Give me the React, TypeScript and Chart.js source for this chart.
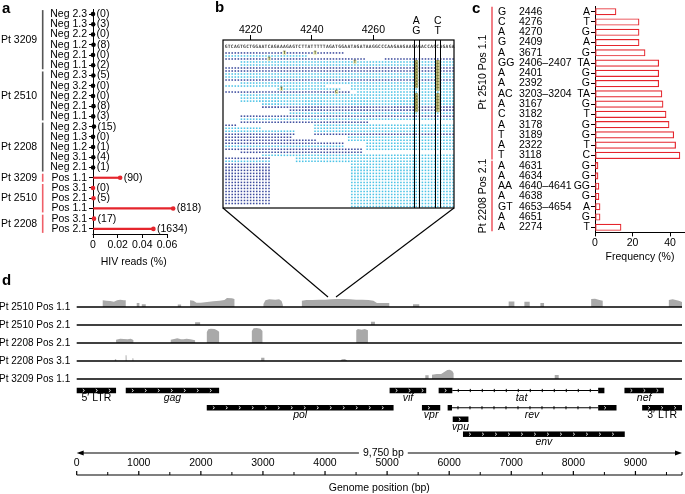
import React, { useEffect, useRef } from 'react';
import { Chart, registerables } from 'chart.js';

Chart.register(...registerables);

const FONT = "'Liberation Sans', Arial, Helvetica, sans-serif";
const BLACK = '#000000';
const RED = '#e5252c';
const BRACKET_RED = '#ef5f68';
const BRACKET_GREY = '#555555';

/* ---------------- panel a ---------------- */
const aRowLabels = ['Neg 2.3', 'Neg 1.3', 'Neg 2.2', 'Neg 1.2', 'Neg 2.1', 'Neg 1.1', 'Neg 2.3', 'Neg 3.2', 'Neg 2.2', 'Neg 2.1', 'Neg 1.1', 'Neg 2.3', 'Neg 1.3', 'Neg 1.2', 'Neg 3.1', 'Neg 2.1', 'Pos 1.1', 'Pos 3.1', 'Pos 2.1', 'Pos 1.1', 'Pos 3.1', 'Pos 2.1'];
const aReadCounts = [0, 3, 0, 8, 0, 2, 5, 0, 0, 8, 3, 15, 0, 1, 4, 1, 90, 0, 5, 818, 17, 1634];
const aHivReadsPct = [0, 0.00015, 0, 0.0004, 0, 0.0001, 0.00025, 0, 0, 0.0004, 0.00015, 0.00075, 0, 0.00005, 0.0002, 0.00005, 0.022, 0, 0.0004, 0.065, 0.0008, 0.049];
const aGroupNames = ['Pt 3209', 'Pt 2510', 'Pt 2208', 'Pt 3209', 'Pt 2510', 'Pt 2208'];
const aGroupFirst = [0, 6, 11, 16, 17, 20];
const aGroupLast = [5, 10, 15, 16, 19, 21];
const aGroupPositive = [false, false, false, true, true, true];
const aXTicks = [0, 0.02, 0.04, 0.06];
const aXTickLabels = ['0', '0.02', '0.04', '0.06'];

/* ---------------- panel b ---------------- */
const bFirstBase = 4212;
const bRefSequence = 'GTCAGTGCTGGAATCAGAAAGAGTCTTATTTTTAGATGGAATAGATAAGGCCCAAGAAGAAGAGACCACCAGAGA';
const bXTicks = [4220, 4240, 4260];
// [row, first base, last base, strand (0 = dark, 1 = light)]
const bReads = [
  [0, 4212, 4250, 0], [1, 4212, 4238, 1], [2, 4212, 4257, 0], [2, 4264, 4286, 0],
  [3, 4217, 4286, 1], [4, 4217, 4286, 1], [5, 4212, 4286, 0], [6, 4212, 4286, 0],
  [7, 4212, 4286, 1], [8, 4212, 4286, 1], [9, 4212, 4286, 0], [10, 4217, 4286, 1],
  [11, 4212, 4244, 1], [11, 4253, 4286, 1], [12, 4229, 4249, 1], [12, 4253, 4286, 1],
  [13, 4212, 4252, 0], [13, 4255, 4286, 1], [14, 4217, 4286, 1], [15, 4217, 4286, 1],
  [16, 4217, 4286, 1], [17, 4224, 4286, 1], [18, 4224, 4286, 0], [19, 4233, 4286, 0],
  [20, 4233, 4286, 1], [21, 4217, 4286, 0], [22, 4217, 4286, 1], [23, 4217, 4258, 0],
  [24, 4212, 4215, 0], [24, 4241, 4286, 1], [25, 4212, 4223, 1], [25, 4241, 4286, 1],
  [26, 4212, 4234, 1], [26, 4241, 4286, 1], [27, 4212, 4234, 0], [27, 4241, 4286, 0],
  [28, 4212, 4233, 0], [28, 4252, 4286, 1], [29, 4212, 4241, 0], [29, 4252, 4286, 1],
  [30, 4212, 4250, 0], [30, 4258, 4286, 1], [31, 4212, 4250, 1], [31, 4258, 4286, 1],
  [32, 4212, 4256, 0], [32, 4258, 4286, 1], [33, 4217, 4256, 0], [34, 4224, 4286, 1],
  [35, 4212, 4226, 0], [35, 4235, 4286, 1], [36, 4212, 4226, 1], [36, 4235, 4286, 1],
  [37, 4212, 4226, 0], [37, 4253, 4286, 1], [38, 4212, 4226, 0], [38, 4253, 4286, 1],
  [39, 4212, 4226, 0], [39, 4253, 4286, 1], [40, 4212, 4226, 0], [40, 4253, 4286, 1],
  [41, 4212, 4226, 0], [41, 4253, 4286, 1], [42, 4212, 4226, 0], [42, 4253, 4286, 1],
  [43, 4212, 4226, 0], [43, 4253, 4286, 1], [44, 4212, 4226, 0], [44, 4253, 4286, 1],
  [45, 4212, 4226, 0], [45, 4253, 4286, 1], [46, 4212, 4226, 0], [46, 4253, 4286, 1],
  [47, 4212, 4226, 0], [47, 4253, 4286, 1], [48, 4212, 4226, 0], [48, 4253, 4286, 1],
  [49, 4212, 4226, 0], [49, 4253, 4286, 1], [50, 4212, 4226, 0], [50, 4253, 4286, 1],
  [51, 4253, 4286, 1],
];
const bMismatchRows = [0, 0, 2, 3, 12, 13];
const bMismatchBases = [4231, 4241, 4226, 4254, 4230, 4248];
const bMismatchLetters = ['T', 'T', 'T', 'T', 'T', 'C'];
const bVariantBases = [4274, 4281];
const bVariantRef = ['A', 'C'];
const bVariantAlt = ['G', 'T'];
const bVariantRows = [
  [3, 4, 5, 6, 7, 8, 9, 10, 11, 14, 15, 16, 17, 18, 19],
  [3, 4, 5, 6, 7, 8, 9, 10, 11, 12, 14, 15, 16, 17, 18, 19],
];

/* ---------------- panel c ---------------- */
const cRefBases = ['G', 'C', 'A', 'G', 'A', 'GG', 'A', 'A', 'AC', 'A', 'C', 'A', 'T', 'A', 'T', 'A', 'A', 'AA', 'A', 'GT', 'A', 'A'];
const cPositions = ['2446', '4276', '4270', '2409', '3671', '2406–2407', '2401', '2392', '3203–3204', '3167', '3182', '3178', '3189', '2322', '3118', '4631', '4634', '4640–4641', '4638', '4653–4654', '4651', '2274'];
const cAltBases = ['A', 'T', 'G', 'A', 'G', 'TA', 'G', 'G', 'TA', 'G', 'T', 'G', 'G', 'T', 'C', 'G', 'G', 'GG', 'G', 'A', 'G', 'T'];
const cFrequency = [11.2, 23.5, 23.5, 23.5, 26.7, 34, 34, 34, 35.7, 36.3, 37.9, 39.5, 42, 43, 45.3, 1.6, 1.6, 2.1, 2.1, 2.7, 2.7, 13.9];
const cGroupNames = ['Pt 2510 Pos 1.1', 'Pt 2208 Pos 2.1'];
const cGroupFirst = [0, 15];
const cGroupLast = [14, 21];
const cXTicks = [0, 20, 40];

/* ---------------- panel d ---------------- */
const dTrackNames = ['Pt 2510 Pos 1.1', 'Pt 2510 Pos 2.1', 'Pt 2208 Pos 2.1', 'Pt 2208 Pos 3.1', 'Pt 3209 Pos 1.1'];
const dCov2510Pos11 = [
  [0, 0], [419, 0], [419, 6.7], [480, 6.3], [540, 6], [600, 5.3], [650, 6.7], [700, 7.3], [760, 6.7], [790, 6.7], [790, 0],
  [967, 0], [967, 4], [1010, 4], [1010, 0], [1048, 0], [1048, 2.7], [1112, 2.7], [1112, 0],
  [1628, 0], [1628, 2.5], [1682, 2.5], [1682, 0],
  [1826, 0], [1826, 6.7], [1880, 6.3], [1930, 4.3], [2000, 4.3], [2100, 5], [2200, 5.7], [2300, 6.3], [2380, 7], [2420, 9], [2500, 8.7], [2541, 8], [2541, 0],
  [3008, 0], [3008, 3], [3040, 6.7], [3100, 7.7], [3200, 7.3], [3260, 7.7], [3300, 6], [3321, 2], [3321, 0],
  [3627, 0], [3627, 6.3], [3700, 7], [3800, 7], [3900, 7.3], [4000, 7.3], [4100, 7.7], [4200, 8], [4300, 8], [4400, 7.7], [4500, 7.3], [4600, 7.3], [4700, 7], [4780, 6.3], [4836, 4], [4879, 4], [5035, 4], [5035, 0],
  [5417, 0], [5417, 2.7], [5518, 2.7], [5518, 0],
  [6958, 0], [6958, 5.5], [7050, 5.5], [7050, 0], [7211, 0], [7211, 5.3], [7297, 5.3], [7297, 0],
  [7469, 0], [7469, 4], [7528, 4], [7528, 0],
  [8287, 0], [8287, 8], [8350, 8.3], [8420, 7], [8473, 6.3], [8473, 0],
  [9538, 0], [9538, 7], [9600, 7.7], [9700, 6.3], [9750, 5],
];
const dCov2510Pos21 = [[0, 0], [1907, 0], [1907, 2.7], [1988, 2.7], [1988, 0], [4740, 0], [4740, 3.3], [4804, 3.3], [4804, 0], [9750, 0]];
const dCov2208Pos21 = [
  [0, 0], [634, 0], [634, 3.3], [700, 4.3], [760, 4], [820, 3.7], [870, 4.3], [913, 3], [913, 0],
  [1515, 0], [1515, 3.3], [1570, 4], [1620, 4.7], [1680, 3.7], [1720, 3.7], [1770, 4.3], [1830, 3.7], [1870, 3.3], [1907, 2.7], [1907, 0],
  [2096, 0], [2096, 11], [2120, 13.7], [2160, 14.3], [2220, 14], [2260, 12.7], [2294, 11.3], [2294, 0],
  [2821, 0], [2821, 12], [2850, 14.7], [2900, 15], [2960, 14.3], [2992, 12], [2992, 0],
  [4503, 0], [4503, 12.7], [4530, 14], [4590, 13.3], [4640, 14], [4691, 12.7], [4691, 0], [9750, 0],
];
const dCov2208Pos31 = [
  [0, 0], [610, 0], [615, 1.7], [635, 1.7], [640, 0], [785, 0], [788, 5.7], [802, 5.7], [805, 0],
  [895, 0], [898, 2.7], [912, 2.7], [915, 0], [2971, 0], [2971, 3.3], [3024, 3.3], [3024, 0],
  [4245, 0], [4270, 1.7], [4320, 2], [4353, 0.7], [4353, 0], [9750, 0],
];
const dCov3209Pos11 = [
  [0, 0], [5615, 0], [5615, 3.7], [5669, 3.7], [5669, 0], [5723, 0], [5723, 4.3], [5800, 5], [5870, 5], [5920, 7], [5970, 9], [6010, 9.3], [6050, 8], [6071, 5.7], [6071, 0],
  [7700, 0], [7700, 4], [7764, 4], [7764, 0], [9750, 0],
];
const dCoverage = [dCov2510Pos11, dCov2510Pos21, dCov2208Pos21, dCov2208Pos31, dCov3209Pos11];
const geneNames = ['5′ LTR', 'gag', 'pol', 'vif', 'vpr', 'vpu', 'tat', 'rev', 'env', 'nef', '3′ LTR'];
const geneItalic = [false, true, true, true, true, true, true, true, true, true, false];
const geneLanes = [1, 1, 2.5, 1, 2.5, 3.5, 1, 2.5, 4.8, 1, 2.5];
const geneExons = [
  [[0, 634]], [[790, 2294]], [[2095, 5104]], [[5040, 5630]], [[5561, 5856]], [[6057, 6310]],
  [[5830, 6050], [8400, 8500]], [[5975, 6045], [8400, 8695]], [[6222, 8828]], [[8823, 9457]], [[9108, 9750]],
];
const genomeLength = 9750;
const genomeLengthLabel = '9,750 bp';
const dMajorTicks = [0, 1000, 2000, 3000, 4000, 5000, 6000, 7000, 8000, 9000];
const dMinorTicks = [500, 1500, 2500, 3500, 4500, 5500, 6500, 7500, 8500, 9500, 9750];

Chart.defaults.font.family = FONT;
Chart.defaults.font.size = 10.5;
Chart.defaults.color = BLACK;

function line(ctx: any, x0: number, y0: number, x1: number, y1: number) {
  ctx.beginPath();
  ctx.moveTo(x0, y0);
  ctx.lineTo(x1, y1);
  ctx.stroke();
}

function panelLetter(ctx: any, letter: string, x: number, y: number) {
  ctx.save();
  ctx.font = `bold 15px ${FONT}`;
  ctx.fillStyle = BLACK;
  ctx.textAlign = 'left';
  ctx.textBaseline = 'alphabetic';
  ctx.fillText(letter, x, y);
  ctx.restore();
}

function makeA(canvas: HTMLCanvasElement) {
  const colors = aRowLabels.map((l) => (l.startsWith('Pos') ? RED : BLACK));
  const decor = {
    id: 'aDecor',
    beforeDatasetsDraw(chart: any) {
      const { ctx, chartArea, scales } = chart;
      const x = scales.x;
      ctx.save();
      ctx.strokeStyle = BLACK;
      ctx.lineWidth = 1;
      const yb = Math.round(chartArea.bottom) + 0.5;
      line(ctx, x.getPixelForValue(0) - 0.5, yb, x.getPixelForValue(aXTicks[aXTicks.length - 1]) + 0.5, yb);
      ctx.restore();
    },
    afterDraw(chart: any) {
      const { ctx, chartArea, scales } = chart;
      const x = scales.x;
      const y = scales.y;
      ctx.save();
      ctx.font = `10.5px ${FONT}`;
      ctx.textBaseline = 'middle';
      ctx.fillStyle = BLACK;
      ctx.textAlign = 'left';
      aHivReadsPct.forEach((v, i) => {
        ctx.fillText(`(${aReadCounts[i]})`, x.getPixelForValue(v) + 3.6, y.getPixelForValue(i));
      });
      const bx = chartArea.left - 50.3;
      aGroupNames.forEach((n, g) => {
        const y0 = y.getPixelForValue(aGroupFirst[g]) - 4;
        const y1 = y.getPixelForValue(aGroupLast[g]) + 4;
        ctx.strokeStyle = aGroupPositive[g] ? BRACKET_RED : BRACKET_GREY;
        ctx.lineWidth = 1.6;
        line(ctx, bx, y0, bx, y1);
        ctx.textAlign = 'right';
        ctx.fillText(n, bx - 5.5, (y0 + y1) / 2);
      });
      ctx.restore();
      panelLetter(ctx, 'a', 2, 13);
    },
  };
  return new Chart(canvas, {
    type: 'bar',
    data: {
      labels: aRowLabels,
      datasets: [
        { type: 'line', indexAxis: 'y', data: aHivReadsPct, showLine: false, pointRadius: 2.3, pointHoverRadius: 2.3, pointBackgroundColor: colors, pointBorderWidth: 0, clip: false } as any,
        { type: 'bar', indexAxis: 'y', data: aHivReadsPct, backgroundColor: colors, barThickness: 1.5, borderWidth: 0, clip: false } as any,
      ],
    },
    options: {
      indexAxis: 'y',
      responsive: false,
      animation: false,
      events: [],
      layout: { padding: { left: 43, right: 40.6, top: 9, bottom: 0 } },
      plugins: { legend: { display: false }, tooltip: { enabled: false } },
      scales: {
        x: {
          type: 'linear', min: 0, max: 0.066,
          afterBuildTicks: (s: any) => { s.ticks = aXTicks.map((v) => ({ value: v })); },
          ticks: { callback: (_v: any, i: number) => aXTickLabels[i], padding: 1, maxRotation: 0, color: BLACK },
          grid: { drawOnChartArea: false, tickLength: 4, color: BLACK },
          border: { display: false },
          title: { display: true, text: 'HIV reads (%)', color: BLACK, padding: { top: 0, bottom: 6.7 } },
          afterFit: (s: any) => { s.height = 41; s.paddingLeft = 0; s.paddingRight = 0; },
        },
        y: {
          type: 'category',
          grid: { drawOnChartArea: false, tickLength: 4, color: BLACK, offset: false },
          border: { color: BLACK },
          ticks: { padding: 2, autoSkip: false, color: BLACK },
          afterFit: (s: any) => { s.width = 50; s.paddingTop = 0; s.paddingBottom = 0; },
        },
      },
    } as any,
    plugins: [decor],
  });
}

function makeB(canvas: HTMLCanvasElement) {
  const dark: any[] = [];
  const light: any[] = [];
  bReads.forEach(([row, s, e, strand]) => {
    for (let b = s; b <= e; b++) (strand ? light : dark).push({ x: b, y: row });
  });
  const hi: any[] = [];
  bVariantBases.forEach((b, k) => bVariantRows[k].forEach((r) => hi.push({ x: b, y: r })));
  const headerRow = -2.1;
  const decor = {
    id: 'bDecor',
    afterDatasetsDraw(chart: any) {
      const { ctx, chartArea: ca, scales } = chart;
      const x = scales.x;
      const y = scales.y;
      ctx.save();
      ctx.textAlign = 'center';
      ctx.textBaseline = 'middle';
      ctx.font = "bold 4.6px 'DejaVu Sans Mono', monospace";
      ctx.fillStyle = '#3a3a3a';
      for (let i = 0; i < bRefSequence.length; i++) {
        ctx.fillText(bRefSequence[i], x.getPixelForValue(bFirstBase + i), y.getPixelForValue(headerRow));
      }
      bMismatchRows.forEach((r, i) => {
        const px = x.getPixelForValue(bMismatchBases[i]);
        const py = y.getPixelForValue(r);
        ctx.fillStyle = '#e9ecb4';
        ctx.fillRect(px - 1.6, py - 1.8, 3.2, 3.6);
        ctx.fillStyle = '#4a4a20';
        ctx.fillText(bMismatchLetters[i], px, py);
      });
      ctx.font = "bold 3.4px 'DejaVu Sans Mono', monospace";
      ctx.fillStyle = '#5a5a20';
      bVariantBases.forEach((b, k) => bVariantRows[k].forEach((r) => {
        ctx.fillText(bVariantAlt[k], x.getPixelForValue(b), y.getPixelForValue(r));
      }));
      ctx.strokeStyle = BLACK;
      ctx.lineWidth = 1;
      bVariantBases.forEach((b) => {
        [b - 0.8, b + 0.8].forEach((v) => {
          const px = Math.round(x.getPixelForValue(v)) + 0.5;
          line(ctx, px, ca.top, px, ca.bottom);
        });
      });
      ctx.lineWidth = 1.2;
      ctx.strokeRect(ca.left, ca.top, ca.right - ca.left, ca.bottom - ca.top);
      ctx.font = `10.5px ${FONT}`;
      ctx.fillStyle = BLACK;
      bVariantBases.forEach((b, k) => {
        const px = x.getPixelForValue(b);
        ctx.fillText(bVariantRef[k], px, 21);
        ctx.fillText(bVariantAlt[k], px, 31);
      });
      ctx.lineWidth = 1.1;
      line(ctx, ca.left, ca.bottom, ca.left + 105, 297);
      line(ctx, ca.right, ca.bottom, ca.right - 118, 297);
      ctx.restore();
      panelLetter(ctx, 'b', 3, 12);
    },
  };
  return new Chart(canvas, {
    type: 'scatter',
    data: {
      datasets: [
        { data: hi, pointStyle: 'rect', pointRadius: 2.2, pointHoverRadius: 2.2, backgroundColor: '#d8d590', borderColor: '#77773a', borderWidth: 0.5 },
        { data: dark, pointStyle: 'rect', pointRadius: 1.1, pointHoverRadius: 1.1, backgroundColor: '#3d4c9e', borderWidth: 0 },
        { data: light, pointStyle: 'rect', pointRadius: 1.1, pointHoverRadius: 1.1, backgroundColor: '#4cc3e6', borderWidth: 0 },
      ],
    },
    options: {
      responsive: false,
      animation: false,
      events: [],
      layout: { padding: { left: 11, right: 14, top: 0, bottom: 92 } },
      plugins: { legend: { display: false }, tooltip: { enabled: false } },
      scales: {
        x: {
          type: 'linear', position: 'top', min: 4211, max: 4286.3,
          afterBuildTicks: (s: any) => { s.ticks = bXTicks.map((v) => ({ value: v })); },
          ticks: { padding: -1, maxRotation: 0, color: BLACK, callback: (v: any) => String(v) },
          grid: { drawOnChartArea: false, tickLength: 5, color: BLACK },
          border: { display: false },
          afterFit: (s: any) => { s.height = 40; s.paddingLeft = 0; s.paddingRight = 0; },
        },
        y: { type: 'linear', reverse: true, min: -4.3, max: 51.5, display: false },
      },
    } as any,
    plugins: [decor],
  });
}

function makeC(canvas: HTMLCanvasElement) {
  const labelShift = [-11, 0];
  const decor = {
    id: 'cDecor',
    afterDraw(chart: any) {
      const { ctx, chartArea, scales } = chart;
      const y = scales.y;
      const left = chartArea.left;
      ctx.save();
      ctx.fillStyle = BLACK;
      ctx.font = `10.5px ${FONT}`;
      ctx.textBaseline = 'middle';
      ctx.textAlign = 'left';
      cRefBases.forEach((b, i) => {
        const py = y.getPixelForValue(i);
        ctx.fillText(b, left - 97, py);
        ctx.fillText(cPositions[i], left - 76, py);
      });
      cGroupNames.forEach((n, g) => {
        const y0 = y.getPixelForValue(cGroupFirst[g]) - 5;
        const y1 = y.getPixelForValue(cGroupLast[g]) + 4;
        const bx = left - 103;
        ctx.strokeStyle = BRACKET_RED;
        ctx.lineWidth = 1.6;
        line(ctx, bx, y0, bx, y1);
        ctx.save();
        ctx.translate(left - 112, (y0 + y1) / 2 + labelShift[g]);
        ctx.rotate(-Math.PI / 2);
        ctx.textAlign = 'center';
        ctx.fillText(n, 0, 0);
        ctx.restore();
      });
      ctx.restore();
      panelLetter(ctx, 'c', 2, 13);
    },
  };
  return new Chart(canvas, {
    type: 'bar',
    data: {
      labels: cAltBases,
      datasets: [
        { data: cFrequency, backgroundColor: '#ffffff', borderColor: RED, borderWidth: 1.2, borderSkipped: false, barThickness: 6.5 } as any,
      ],
    },
    options: {
      indexAxis: 'y',
      responsive: false,
      animation: false,
      events: [],
      layout: { padding: { left: 0, right: 0, top: 6.6, bottom: 0 } },
      plugins: { legend: { display: false }, tooltip: { enabled: false } },
      scales: {
        x: {
          type: 'linear', min: 0, max: 48,
          afterBuildTicks: (s: any) => { s.ticks = cXTicks.map((v) => ({ value: v })); },
          ticks: { padding: 0, maxRotation: 0, color: BLACK, callback: (v: any) => String(v) },
          grid: { drawOnChartArea: false, tickLength: 4, color: BLACK },
          border: { color: BLACK },
          title: { display: true, text: 'Frequency (%)', color: BLACK, padding: { top: 0, bottom: 12 } },
          afterFit: (s: any) => { s.height = 42.6; s.paddingLeft = 0; s.paddingRight = 0; },
        },
        y: {
          type: 'category',
          grid: { drawOnChartArea: false, tickLength: 4, color: BLACK, offset: false },
          border: { color: BLACK },
          ticks: { padding: 1, autoSkip: false, color: BLACK },
          afterFit: (s: any) => { s.width = 125; s.paddingTop = 0; s.paddingBottom = 0; },
        },
      },
    } as any,
    plugins: [decor],
  });
}

function makeD(canvas: HTMLCanvasElement) {
  const scales: any = {
    x: { type: 'linear', min: 0, max: genomeLength, display: false },
  };
  dTrackNames.forEach((name, i) => {
    scales['t' + i] = {
      type: 'linear', position: 'left', stack: 'tracks', stackWeight: 18, weight: 10 - i, min: 0, max: 18,
      afterBuildTicks: (s: any) => { s.ticks = [{ value: 0 }]; },
      ticks: { callback: () => name, color: BLACK, font: { size: 10 }, padding: 6.5 },
      grid: { display: false, drawTicks: false },
      border: { display: false },
      afterFit: (s: any) => { s.width = 76.7; s.paddingTop = 0; s.paddingBottom = 0; },
    };
  });
  scales.g = {
    type: 'linear', position: 'left', stack: 'tracks', stackWeight: 115, weight: 0, min: 0, max: 10, reverse: true,
    ticks: { display: false }, grid: { display: false }, border: { display: false },
    afterFit: (s: any) => { s.width = 76.7; s.paddingTop = 0; s.paddingBottom = 0; },
  };
  const decor = {
    id: 'dDecor',
    afterDatasetsDraw(chart: any) {
      const { ctx, chartArea: ca } = chart;
      ctx.save();
      ctx.strokeStyle = BLACK;
      ctx.lineWidth = 1.3;
      dTrackNames.forEach((_n, i) => {
        const py = chart.scales['t' + i].getPixelForValue(0);
        line(ctx, ca.left, py, ca.right, py);
      });
      ctx.restore();
    },
    afterDraw(chart: any) {
      const { ctx, chartArea: ca } = chart;
      const x = chart.scales.x;
      const g = chart.scales.g;
      const H = chart.height;
      const boxH = 5.5;
      ctx.save();
      geneNames.forEach((name, i) => {
        const yc = g.getPixelForValue(geneLanes[i]);
        const exons = geneExons[i];
        ctx.strokeStyle = BLACK;
        ctx.lineWidth = 1;
        for (let k = 0; k < exons.length - 1; k++) {
          const a = x.getPixelForValue(exons[k][1]);
          const b = x.getPixelForValue(exons[k + 1][0]);
          line(ctx, a, yc, b, yc);
          for (let tx = a + 6; tx < b - 3; tx += 12) line(ctx, tx, yc - 1.6, tx, yc + 1.6);
        }
        exons.forEach(([s, e]) => {
          const x0 = x.getPixelForValue(s);
          const x1 = x.getPixelForValue(e);
          ctx.fillStyle = BLACK;
          ctx.fillRect(x0, yc - boxH / 2, x1 - x0, boxH);
          ctx.strokeStyle = '#ffffff';
          ctx.lineWidth = 0.9;
          for (let cx = x0 + 7; cx < x1 - 3; cx += 13) {
            ctx.beginPath();
            ctx.moveTo(cx - 0.9, yc - 1.4);
            ctx.lineTo(cx + 0.7, yc);
            ctx.lineTo(cx - 0.9, yc + 1.4);
            ctx.stroke();
          }
        });
        const sx0 = x.getPixelForValue(exons[0][0]);
        const sx1 = x.getPixelForValue(exons[exons.length - 1][1]);
        ctx.fillStyle = BLACK;
        ctx.font = `${geneItalic[i] ? 'italic ' : ''}10.5px ${FONT}`;
        ctx.textAlign = 'center';
        ctx.textBaseline = 'middle';
        ctx.fillText(name, (sx0 + sx1) / 2, yc + 7.5);
      });
      // length arrow
      const xa = x.getPixelForValue(0);
      const xb = x.getPixelForValue(genomeLength);
      const yArrow = H - 41;
      ctx.strokeStyle = BLACK;
      ctx.fillStyle = BLACK;
      ctx.lineWidth = 1.2;
      line(ctx, xa + 4, yArrow, xb - 4, yArrow);
      ctx.beginPath();
      ctx.moveTo(xa, yArrow); ctx.lineTo(xa + 7, yArrow - 2.6); ctx.lineTo(xa + 7, yArrow + 2.6); ctx.closePath(); ctx.fill();
      ctx.beginPath();
      ctx.moveTo(xb, yArrow); ctx.lineTo(xb - 7, yArrow - 2.6); ctx.lineTo(xb - 7, yArrow + 2.6); ctx.closePath(); ctx.fill();
      ctx.font = `10.5px ${FONT}`;
      const xm = x.getPixelForValue(genomeLength / 2) + 4;
      const tw = ctx.measureText(genomeLengthLabel).width;
      ctx.fillStyle = '#ffffff';
      ctx.fillRect(xm - tw / 2 - 4, yArrow - 4, tw + 8, 8);
      ctx.fillStyle = BLACK;
      ctx.textAlign = 'center';
      ctx.textBaseline = 'middle';
      ctx.fillText(genomeLengthLabel, xm, yArrow);
      // ruler
      const yAxis = H - 19;
      dMajorTicks.forEach((v) => {
        const px = x.getPixelForValue(v);
        ctx.fillText(String(v), px, H - 31);
        line(ctx, px, yAxis, px, yAxis - 4);
      });
      ctx.lineWidth = 1;
      dMinorTicks.forEach((v) => {
        const px = x.getPixelForValue(v);
        line(ctx, px, yAxis, px, yAxis - 3);
      });
      ctx.lineWidth = 1.2;
      line(ctx, xa, yAxis, xb, yAxis);
      ctx.fillText('Genome position (bp)', (ca.left + ca.right) / 2, H - 6);
      ctx.restore();
      panelLetter(ctx, 'd', 2, 15);
    },
  };
  return new Chart(canvas, {
    type: 'line',
    data: {
      datasets: dCoverage.map((cov, i) => ({
        data: cov.map(([px, py]) => ({ x: px, y: py })),
        yAxisID: 't' + i,
        xAxisID: 'x',
        fill: 'origin',
        backgroundColor: '#a9a9a9',
        borderColor: 'rgba(0,0,0,0)',
        borderWidth: 0,
        pointRadius: 0,
        pointHoverRadius: 0,
        tension: 0,
      })) as any,
    },
    options: {
      responsive: false,
      animation: false,
      events: [],
      layout: { padding: { left: 0, right: 3, top: 19, bottom: 0 } },
      plugins: { legend: { display: false }, tooltip: { enabled: false } },
      scales,
    } as any,
    plugins: [decor],
  });
}

export default function App() {
  const aRef = useRef<HTMLCanvasElement>(null);
  const bRef = useRef<HTMLCanvasElement>(null);
  const cRef = useRef<HTMLCanvasElement>(null);
  const dRef = useRef<HTMLCanvasElement>(null);
  useEffect(() => {
    const charts: Chart[] = [];
    if (aRef.current) charts.push(makeA(aRef.current));
    if (bRef.current) charts.push(makeB(bRef.current));
    if (cRef.current) charts.push(makeC(cRef.current));
    if (dRef.current) charts.push(makeD(dRef.current));
    return () => charts.forEach((c) => c.destroy());
  }, []);
  return (
    <div style={{ position: 'fixed', left: 0, top: 0, width: 685, height: 494, background: '#ffffff', overflow: 'hidden' }}>
      <canvas ref={aRef} width={215} height={275} style={{ position: 'absolute', left: 0, top: 0 }} />
      <canvas ref={bRef} width={256} height={300} style={{ position: 'absolute', left: 212, top: 0 }} />
      <canvas ref={cRef} width={215} height={275} style={{ position: 'absolute', left: 470, top: 0 }} />
      <canvas ref={dRef} width={685} height={224} style={{ position: 'absolute', left: 0, top: 270 }} />
    </div>
  );
}
